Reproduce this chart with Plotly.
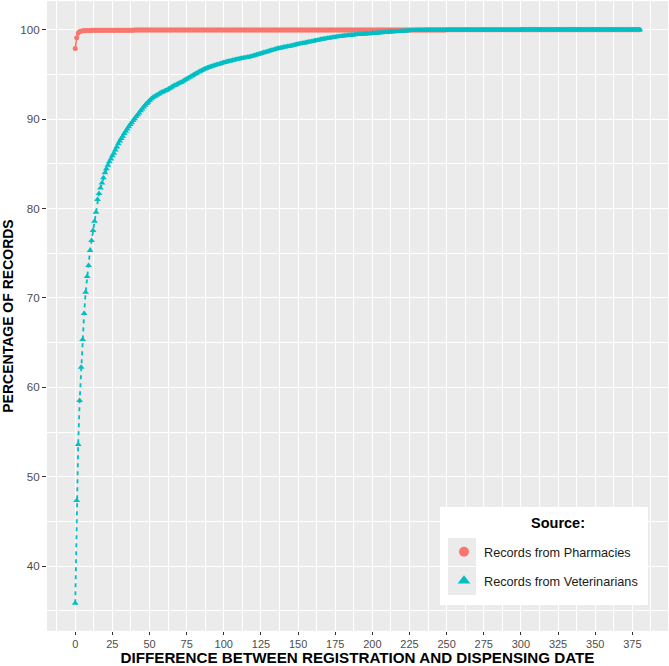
import plotly.graph_objects as go

# ---------------- data ----------------
series_names = ["Records from Pharmacies", "Records from Veterinarians"]

pharmacy_pct = [
    97.90, 99.10, 99.65, 99.80, 99.85, 99.88, 99.90, 99.91, 99.92, 99.93,
    99.93, 99.94, 99.94, 99.94, 99.95, 99.95, 99.95, 99.95, 99.96, 99.96,
    99.96, 99.96, 99.96, 99.96, 99.96, 99.96, 99.96, 99.96, 99.96, 99.96,
    99.96, 99.96, 99.96, 99.96, 99.96, 99.96, 99.96, 99.96, 99.96, 99.96,
    99.97, 99.97, 99.97, 99.97, 99.97, 99.97, 99.97, 99.97, 99.97, 99.97,
    99.97, 99.97, 99.97, 99.97, 99.97, 99.97, 99.97, 99.97, 99.97, 99.97,
    99.97, 99.97, 99.97, 99.97, 99.97, 99.97, 99.97, 99.97, 99.97, 99.97,
    99.97, 99.97, 99.97, 99.97, 99.97, 99.97, 99.97, 99.97, 99.97, 99.97,
    99.98, 99.98, 99.98, 99.98, 99.98, 99.98, 99.98, 99.98, 99.98, 99.98,
    99.98, 99.98, 99.98, 99.98, 99.98, 99.98, 99.98, 99.98, 99.98, 99.98,
    99.98, 99.98, 99.98, 99.98, 99.98, 99.98, 99.98, 99.98, 99.98, 99.98,
    99.98, 99.98, 99.98, 99.98, 99.98, 99.98, 99.98, 99.98, 99.98, 99.98,
    99.98, 99.98, 99.98, 99.98, 99.98, 99.98, 99.98, 99.98, 99.98, 99.98,
    99.98, 99.98, 99.98, 99.98, 99.98, 99.98, 99.98, 99.98, 99.98, 99.98,
    99.98, 99.98, 99.98, 99.98, 99.98, 99.98, 99.98, 99.98, 99.98, 99.98,
    99.99, 99.99, 99.99, 99.99, 99.99, 99.99, 99.99, 99.99, 99.99, 99.99,
    99.99, 99.99, 99.99, 99.99, 99.99, 99.99, 99.99, 99.99, 99.99, 99.99,
    99.99, 99.99, 99.99, 99.99, 99.99, 99.99, 99.99, 99.99, 99.99, 99.99,
    99.99, 99.99, 99.99, 99.99, 99.99, 99.99, 99.99, 99.99, 99.99, 99.99,
    99.99, 99.99, 99.99, 99.99, 99.99, 99.99, 99.99, 99.99, 99.99, 99.99,
    99.99, 99.99, 99.99, 99.99, 99.99, 99.99, 99.99, 99.99, 99.99, 99.99,
    99.99, 99.99, 99.99, 99.99, 99.99, 99.99, 99.99, 99.99, 99.99, 99.99,
    99.99, 99.99, 99.99, 99.99, 99.99, 99.99, 99.99, 99.99, 99.99, 99.99,
    99.99, 99.99, 99.99, 99.99, 99.99, 99.99, 99.99, 99.99, 99.99, 99.99,
    99.99, 99.99, 99.99, 99.99, 99.99, 99.99, 99.99, 99.99, 99.99, 99.99,
    100.0, 100.0, 100.0, 100.0, 100.0, 100.0, 100.0, 100.0, 100.0, 100.0,
    100.0, 100.0, 100.0, 100.0, 100.0, 100.0, 100.0, 100.0, 100.0, 100.0,
    100.0, 100.0, 100.0, 100.0, 100.0, 100.0, 100.0, 100.0, 100.0, 100.0,
    100.0, 100.0, 100.0, 100.0, 100.0, 100.0, 100.0, 100.0, 100.0, 100.0,
    100.0, 100.0, 100.0, 100.0, 100.0, 100.0, 100.0, 100.0, 100.0, 100.0,
    100.0, 100.0, 100.0, 100.0, 100.0, 100.0, 100.0, 100.0, 100.0, 100.0,
    100.0, 100.0, 100.0, 100.0, 100.0, 100.0, 100.0, 100.0, 100.0, 100.0,
    100.0, 100.0, 100.0, 100.0, 100.0, 100.0, 100.0, 100.0, 100.0, 100.0,
    100.0, 100.0, 100.0, 100.0, 100.0, 100.0, 100.0, 100.0, 100.0, 100.0,
    100.0, 100.0, 100.0, 100.0, 100.0, 100.0, 100.0, 100.0, 100.0, 100.0,
    100.0, 100.0, 100.0, 100.0, 100.0, 100.0, 100.0, 100.0, 100.0, 100.0,
    100.0, 100.0, 100.0, 100.0, 100.0, 100.0, 100.0, 100.0, 100.0, 100.0,
    100.0, 100.0, 100.0, 100.0, 100.0, 100.0, 100.0, 100.0, 100.0, 100.0,
    100.0,
]

veterinarian_pct = [
    35.86, 47.35, 53.61, 58.54, 62.26, 65.36, 68.27, 70.65, 72.40, 73.63,
    75.31, 76.43, 77.55, 78.59, 79.60, 81.02, 81.69, 82.30, 82.85, 83.45,
    84.00, 84.45, 84.85, 85.25, 85.55, 85.90, 86.20, 86.55, 86.90, 87.25,
    87.55, 87.85, 88.10, 88.40, 88.65, 88.90, 89.15, 89.40, 89.60, 89.85,
    90.05, 90.30, 90.50, 90.70, 90.95, 91.15, 91.35, 91.55, 91.75, 91.90,
    92.10, 92.25, 92.40, 92.50, 92.60, 92.70, 92.80, 92.90, 93.00, 93.05,
    93.15, 93.20, 93.30, 93.40, 93.50, 93.60, 93.70, 93.80, 93.85, 93.95,
    94.05, 94.10, 94.20, 94.30, 94.40, 94.50, 94.60, 94.70, 94.80, 94.90,
    95.00, 95.09, 95.18, 95.27, 95.36, 95.45, 95.53, 95.61, 95.68, 95.75,
    95.81, 95.87, 95.93, 95.98, 96.03, 96.08, 96.13, 96.18, 96.23, 96.28,
    96.33, 96.38, 96.43, 96.47, 96.51, 96.55, 96.59, 96.63, 96.67, 96.70,
    96.74, 96.78, 96.81, 96.84, 96.87, 96.90, 96.93, 96.96, 97.00, 97.05,
    97.10, 97.15, 97.20, 97.25, 97.30, 97.35, 97.40, 97.45, 97.50, 97.55,
    97.60, 97.65, 97.70, 97.75, 97.80, 97.85, 97.90, 97.93, 97.97, 98.00,
    98.05, 98.08, 98.11, 98.14, 98.17, 98.20, 98.24, 98.28, 98.32, 98.36,
    98.40, 98.43, 98.46, 98.50, 98.53, 98.56, 98.60, 98.63, 98.67, 98.70,
    98.73, 98.77, 98.80, 98.83, 98.86, 98.90, 98.93, 98.96, 99.00, 99.03,
    99.06, 99.09, 99.12, 99.15, 99.17, 99.20, 99.22, 99.24, 99.26, 99.28,
    99.30, 99.32, 99.34, 99.36, 99.38, 99.40, 99.42, 99.43, 99.45, 99.46,
    99.48, 99.49, 99.50, 99.51, 99.53, 99.54, 99.55, 99.56, 99.57, 99.58,
    99.60, 99.61, 99.62, 99.63, 99.65, 99.66, 99.67, 99.69, 99.70, 99.72,
    99.73, 99.74, 99.75, 99.77, 99.78, 99.79, 99.80, 99.81, 99.82, 99.84,
    99.85, 99.86, 99.87, 99.88, 99.90, 99.91, 99.92, 99.92, 99.93, 99.94,
    99.94, 99.95, 99.95, 99.96, 99.96, 99.96, 99.97, 99.97, 99.97, 99.97,
    99.98, 99.98, 99.98, 99.98, 99.98, 99.98, 99.99, 99.99, 99.99, 99.99,
    99.99, 99.99, 99.99, 99.99, 99.99, 99.99, 99.99, 99.99, 99.99, 99.99,
    99.99, 99.99, 99.99, 99.99, 99.99, 99.99, 99.99, 99.99, 99.99, 99.99,
    99.99, 99.99, 99.99, 99.99, 99.99, 99.99, 99.99, 99.99, 99.99, 99.99,
    99.99, 99.99, 99.99, 99.99, 99.99, 99.99, 99.99, 99.99, 99.99, 99.99,
    99.99, 99.99, 99.99, 99.99, 99.99, 99.99, 99.99, 99.99, 99.99, 99.99,
    100.0, 100.0, 100.0, 100.0, 100.0, 100.0, 100.0, 100.0, 100.0, 100.0,
    100.0, 100.0, 100.0, 100.0, 100.0, 100.0, 100.0, 100.0, 100.0, 100.0,
    100.0, 100.0, 100.0, 100.0, 100.0, 100.0, 100.0, 100.0, 100.0, 100.0,
    100.0, 100.0, 100.0, 100.0, 100.0, 100.0, 100.0, 100.0, 100.0, 100.0,
    100.0, 100.0, 100.0, 100.0, 100.0, 100.0, 100.0, 100.0, 100.0, 100.0,
    100.0, 100.0, 100.0, 100.0, 100.0, 100.0, 100.0, 100.0, 100.0, 100.0,
    100.0, 100.0, 100.0, 100.0, 100.0, 100.0, 100.0, 100.0, 100.0, 100.0,
    100.0, 100.0, 100.0, 100.0, 100.0, 100.0, 100.0, 100.0, 100.0, 100.0,
    100.0,
]

# day differences (one record point per day)
pharmacy_days = list(range(len(pharmacy_pct)))
veterinarian_days = list(range(len(veterinarian_pct)))

x_ticks = [0, 25, 50, 75, 100, 125, 150, 175, 200, 225, 250, 275, 300, 325, 350, 375]
y_ticks = [40, 50, 60, 70, 80, 90, 100]

x_title = "DIFFERENCE BETWEEN REGISTRATION AND DISPENSING DATE"
y_title = "PERCENTAGE OF RECORDS"
legend_title = "Source:"

# ---------------- style ----------------
RED = "#F8766D"
TEAL = "#00BFC4"
FONT = "Liberation Sans, Arial, Helvetica, sans-serif"

fig = go.Figure()

fig.add_trace(go.Scatter(
    x=pharmacy_days, y=pharmacy_pct, mode="lines+markers",
    name=series_names[0], showlegend=False,
    line=dict(color=RED, width=1.6),
    marker=dict(symbol="circle", size=5, color=RED),
))
fig.add_trace(go.Scatter(
    x=veterinarian_days, y=veterinarian_pct, mode="lines+markers",
    name=series_names[1], showlegend=False,
    line=dict(color=TEAL, width=1.8, dash="4px,4px"),
    marker=dict(symbol="triangle-up", size=6, color=TEAL),
))

# legend-only entries (markers only, as in the key)
fig.add_trace(go.Scatter(
    x=[None], y=[None], mode="markers", name=series_names[0], legend="legend",
    marker=dict(symbol="circle", size=10, color=RED),
))
fig.add_trace(go.Scatter(
    x=[None], y=[None], mode="markers", name=series_names[1], legend="legend2",
    marker=dict(symbol="triangle-up", size=11, color=TEAL),
))

W, H = 669, 666
ML, MR, MT, MB = 47, 1, 1, 35
PW, PH = W - ML - MR, H - MT - MB


def px_x(p):
    return (p - ML) / PW


def px_y(p):
    return (H - MB - p) / PH


shapes = [
    # legend box
    dict(type="rect", xref="paper", yref="paper", layer="above",
         x0=px_x(440), x1=px_x(648), y0=px_y(605), y1=px_y(507),
         fillcolor="white", line=dict(width=0)),
    # key backgrounds
    dict(type="rect", xref="paper", yref="paper", layer="above",
         x0=px_x(448), x1=px_x(476), y0=px_y(566), y1=px_y(538),
         fillcolor="#EBEBEB", line=dict(width=0)),
    dict(type="rect", xref="paper", yref="paper", layer="above",
         x0=px_x(448), x1=px_x(476), y0=px_y(595), y1=px_y(567),
         fillcolor="#EBEBEB", line=dict(width=0)),
]

legend_common = dict(
    bgcolor="rgba(0,0,0,0)", borderwidth=0,
    font=dict(family=FONT, size=12.7, color="#1A1A1A"),
    xanchor="left", yanchor="middle", itemclick=False, itemdoubleclick=False,
)

fig.update_layout(
    width=W, height=H,
    margin=dict(l=ML, r=MR, t=MT, b=MB, autoexpand=False),
    paper_bgcolor="white", plot_bgcolor="#EBEBEB",
    font=dict(family=FONT, color="#4D4D4D"),
    showlegend=True,
    legend=dict(x=px_x(444), y=px_y(552), **legend_common),
    legend2=dict(x=px_x(444), y=px_y(581), **legend_common),
    shapes=shapes,
    annotations=[dict(
        text="<b>" + legend_title + "</b>", xref="paper", yref="paper",
        x=px_x(558), y=px_y(523), xanchor="center", yanchor="middle",
        showarrow=False, font=dict(family=FONT, size=14.5, color="black"),
    )],
    xaxis=dict(
        range=[-19, 399], tickmode="array", tickvals=x_ticks,
        ticktext=[str(v) for v in x_ticks],
        showgrid=True, gridcolor="white", gridwidth=1.1,
        minor=dict(dtick=12.5, tick0=12.5, showgrid=True, gridcolor="white", gridwidth=0.5, ticks=""),
        zeroline=False, showline=False,
        ticks="outside", ticklen=3, tickwidth=1, tickcolor="#333333",
        ticklabelstandoff=0,
        tickfont=dict(family=FONT, size=11, color="#4D4D4D"),
        title=dict(text="<b>" + x_title + "</b>", standoff=5,
                   font=dict(family=FONT, size=15.2, color="black")),
        automargin=False,
    ),
    yaxis=dict(
        range=[32.75, 103.22], tickmode="array", tickvals=y_ticks,
        ticktext=[str(v) for v in y_ticks],
        showgrid=True, gridcolor="white", gridwidth=1.1,
        minor=dict(dtick=5, tick0=35, showgrid=True, gridcolor="white", gridwidth=0.5, ticks=""),
        zeroline=False, showline=False,
        ticks="outside", ticklen=4, tickwidth=1, tickcolor="#333333",
        tickfont=dict(family=FONT, size=11.6, color="#4D4D4D"),
        title=dict(text="<b>" + y_title + "</b>", standoff=4,
                   font=dict(family=FONT, size=14, color="black")),
        automargin=False,
    ),
)

fig.write_html("out.html")
